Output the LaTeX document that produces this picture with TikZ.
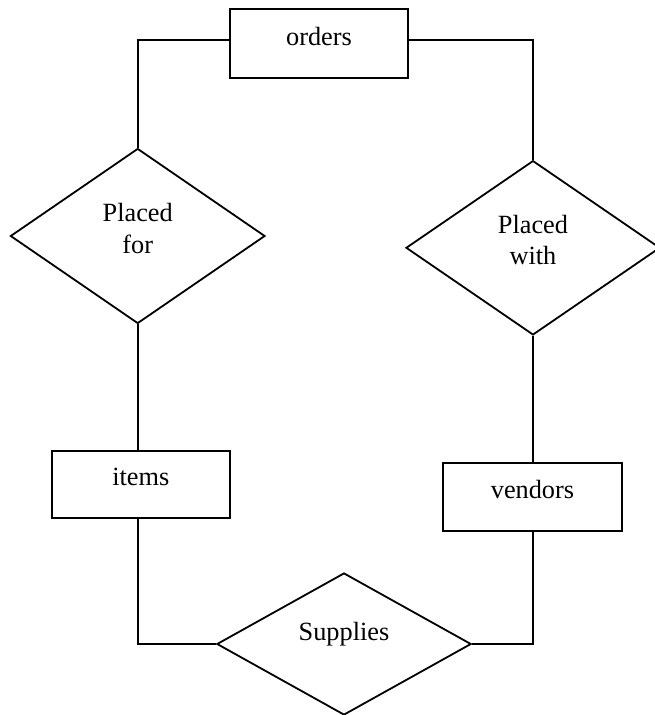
\documentclass[tikz,border=0pt]{standalone}
\usepackage{fontspec}
\setmainfont{Liberation Serif}
\usetikzlibrary{shapes.geometric}
\tikzset{
  lw/.style={line width=1.8pt},
  txt/.style={font=\fontsize{26.3}{31.5}\selectfont},
  entity/.style={draw, lw, rectangle, inner sep=0pt, anchor=base, txt},
  rel/.style={draw, lw, diamond, inner sep=0pt},
  lbl/.style={inner sep=0pt, anchor=base, txt},
  conn/.style={lw, line join=miter}
}
\begin{document}
\begin{tikzpicture}[x=1pt,y=-1pt]
\fill[white] (0,0) rectangle (654,715);
\useasboundingbox (0,0) rectangle (654,715);
% entities
\node[entity, minimum width=178pt, text height=36pt, text depth=32.7pt] (orders) at (319,45) {orders};
\node[entity, minimum width=178.3pt, text height=34.3pt, text depth=33pt] (items) at (140.8,485) {items};
\node[entity, minimum width=179pt, text height=35.6pt, text depth=32.7pt] (vendors) at (532.5,498.3) {vendors};
% relationships
\node[rel, minimum width=254.6pt, minimum height=175pt] (pf) at (137.7,236) {};
\node[lbl] (pf1) at (137.7,221.7) {Placed};
\node[lbl] (pf2) at (137.7,253.2) {for};
\node[rel, minimum width=254pt, minimum height=174.3pt] (pw) at (533,247.8) {};
\node[lbl] (pw1) at (533,233.3) {Placed};
\node[lbl] (pw2) at (533,264.8) {with};
\node[rel, minimum width=254.3pt, minimum height=142pt] (sup) at (344,644) {};
\node[lbl] (sup1) at (344,640) {Supplies};
% connectors
\draw[conn] ([yshift=3.3pt]orders.west) -| (pf.north);
\draw[conn] ([yshift=3.3pt]orders.east) -| (pw.north);
\draw[conn] (pf.south) -- (pf.south |- items.north);
\draw[conn] (pw.south) -- (pw.south |- vendors.north);
\draw[conn] (pf.south |- items.south) |- (sup.west);
\draw[conn] (pw.south |- vendors.south) |- (sup.east);
\end{tikzpicture}
\end{document}
